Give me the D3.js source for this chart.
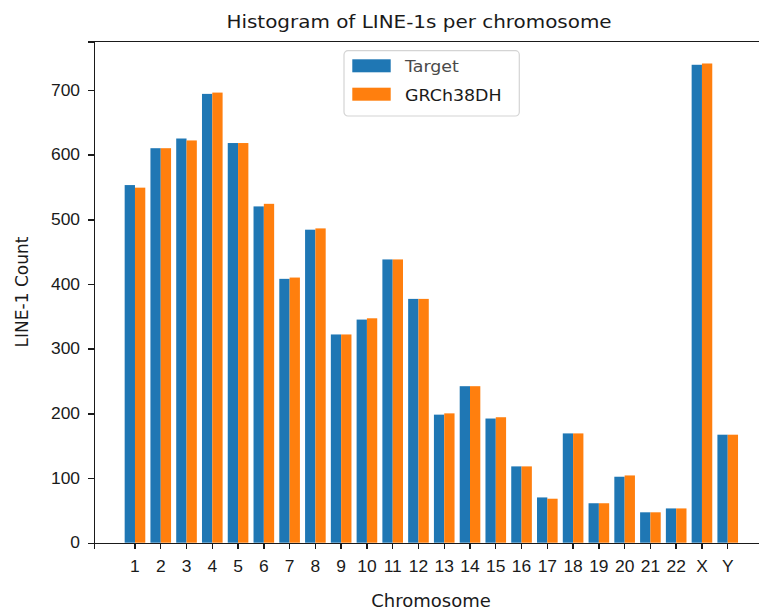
<!DOCTYPE html>
<html lang="en">
<head>
    <meta charset="UTF-8">
    <title>Histogram of LINE-1s per chromosome</title>
    <script src="https://d3js.org/d3.v7.min.js"></script>
    <style>
        body { margin: 0; background: #fff; }
        svg { display: block; font-family: "DejaVu Sans", sans-serif; }
        .axis path, .axis line { stroke: #1a1a1a; stroke-width: 1.4; shape-rendering: crispEdges; }
        .axis text { font-size: 16px; fill: #1a1a1a; }
    </style>
</head>
<body>
    <svg width="759" height="611"></svg>
    <script>
        // chromosomes and LINE-1 counts
        const chromosomes = ["1", "2", "3", "4", "5", "6", "7", "8", "9", "10", "11", "12",
                             "13", "14", "15", "16", "17", "18", "19", "20", "21", "22", "X", "Y"];
        const seriesNames = ["Target", "GRCh38DH"];
        const targetCounts = [553, 610, 625, 694, 618, 520, 408, 484, 322, 345, 438, 377,
                              198, 242, 192, 118, 70, 169, 61, 102, 47, 53, 739, 167];
        const grchCounts = [549, 610, 622, 696, 618, 524, 410, 486, 322, 347, 438, 377,
                            200, 242, 194, 118, 68, 169, 61, 104, 47, 53, 741, 167];
        const yTicks = [0, 100, 200, 300, 400, 500, 600, 700];
        const colors = ["#1f77b4", "#ff7f0e"];

        const data = chromosomes.map((c, i) => ({ chrom: c, values: [targetCounts[i], grchCounts[i]] }));

        // the picture is a little wider than tall, so text gets a small horizontal stretch
        const SX = 1.09;

        const plot = { left: 94, right: 768.7, top: 41.5, bottom: 542.7 };

        const svg = d3.select("svg");

        const x = d3.scaleBand()
            .domain(chromosomes)
            .range([plot.left, plot.right])
            .paddingInner(0.2)
            .paddingOuter(1.19);

        const xSub = d3.scaleBand()
            .domain(seriesNames)
            .range([0, x.bandwidth()]);

        const y = d3.scaleLinear()
            .domain([0, 775])
            .range([plot.bottom, plot.top]);

        // bars
        svg.append("g")
            .selectAll("g")
            .data(data)
            .enter().append("g")
            .attr("transform", d => "translate(" + x(d.chrom) + ",0)")
            .selectAll("rect")
            .data(d => d.values.map((v, i) => ({ name: seriesNames[i], value: v, i: i })))
            .enter().append("rect")
            .attr("x", d => xSub(d.name))
            .attr("y", d => y(d.value))
            .attr("width", xSub.bandwidth())
            .attr("height", d => y(0) - y(d.value))
            .attr("fill", d => colors[d.i]);

        // axes
        svg.append("g")
            .attr("class", "axis")
            .attr("transform", "translate(0," + plot.bottom + ")")
            .call(d3.axisBottom(x).tickSizeOuter(0).tickSize(6).tickPadding(11.6))
            .selectAll(".tick text")
            .attr("transform", "scale(" + SX + ",1)");

        svg.append("g")
            .attr("class", "axis")
            .attr("transform", "translate(" + plot.left + ",0)")
            .call(d3.axisLeft(y).tickValues(yTicks).tickSizeOuter(0).tickSize(6).tickPadding(6.8))
            .selectAll(".tick text")
            .attr("transform", "scale(" + SX + ",1)");

        // top and right spines
        svg.append("line")
            .attr("x1", plot.left).attr("x2", plot.right)
            .attr("y1", plot.top).attr("y2", plot.top)
            .attr("stroke", "#1a1a1a").attr("stroke-width", 1.4)
            .attr("shape-rendering", "crispEdges");
        svg.append("line")
            .attr("x1", plot.right).attr("x2", plot.right)
            .attr("y1", plot.top).attr("y2", plot.bottom)
            .attr("stroke", "#1a1a1a").attr("stroke-width", 1.4);

        // title
        svg.append("g")
            .attr("transform", "translate(419,28.3) scale(" + SX + ",1)")
            .append("text")
            .attr("text-anchor", "middle")
            .style("font-size", "18.3px")
            .attr("fill", "#1a1a1a")
            .text("Histogram of LINE-1s per chromosome");

        // axis labels
        svg.append("g")
            .attr("transform", "translate(431,606.5)")
            .append("text")
            .attr("text-anchor", "middle")
            .style("font-size", "18px")
            .attr("fill", "#1a1a1a")
            .text("Chromosome");

        svg.append("g")
            .attr("transform", "translate(28.3,292) rotate(-90)")
            .append("text")
            .attr("text-anchor", "middle")
            .style("font-size", "17px")
            .attr("fill", "#1a1a1a")
            .text("LINE-1 Count");

        // legend
        const legend = svg.append("g").attr("transform", "translate(344,50.7)");
        legend.append("rect")
            .attr("width", 175.3)
            .attr("height", 65.3)
            .attr("rx", 4)
            .attr("fill", "#fff")
            .attr("fill-opacity", 0.8)
            .attr("stroke", "#d4d4d4")
            .attr("stroke-width", 1.2);

        const item = legend.selectAll(".item")
            .data(seriesNames)
            .enter().append("g")
            .attr("class", "item")
            .attr("transform", (d, i) => "translate(0," + (i * 28.4) + ")");

        item.append("rect")
            .attr("x", 8.3)
            .attr("y", 8.6)
            .attr("width", 38.4)
            .attr("height", 13)
            .attr("fill", (d, i) => colors[i]);

        item.append("g")
            .attr("transform", "translate(61,21.6) scale(" + SX + ",1)")
            .append("text")
            .style("font-size", "16px")
            .attr("fill", (d, i) => i === 0 ? "#4a4a4a" : "#1a1a1a")
            .text(d => d);
    </script>
</body>
</html>
